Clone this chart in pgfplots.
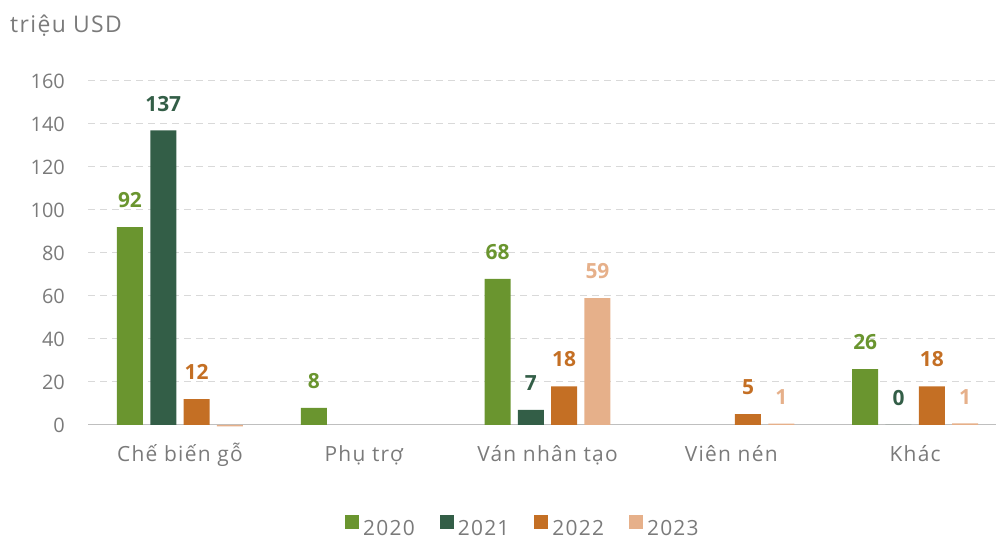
\documentclass[border=0pt]{standalone}
\usepackage{fontspec}
\setmainfont{Open Sans}
\newfontfamily\widefont{Open Sans}[LetterSpace=6]
\usepackage{pgfplots}
\pgfplotsset{compat=1.18}
\definecolor{c20}{HTML}{6A952F}
\definecolor{c21}{HTML}{335E47}
\definecolor{c22}{HTML}{C46F24}
\definecolor{c23}{HTML}{E6B08A}
\definecolor{txt}{HTML}{7A7A7A}
\definecolor{gridc}{HTML}{D9D9D9}
\definecolor{zeroc}{HTML}{BFBFBF}
\newcommand{\lbl}{\fontsize{20}{24}\selectfont}
\newcommand{\catlbl}{\widefont\fontsize{21}{25}\selectfont}
\newcommand{\titlelbl}{\widefont\fontsize{23}{27}\selectfont}
\newcommand{\dlbl}{\fontsize{21}{25}\selectfont\bfseries}
\pgfplotsset{sqlegend/.style={legend image code/.code={\fill[##1] (0bp,0bp) rectangle (14bp,14bp);}}}
\begin{document}
\begin{tikzpicture}[x=1bp,y=1bp]
\path[use as bounding box] (0,0) rectangle (996,540);
\node[anchor=base west, inner sep=0, text=txt, font=\titlelbl] at (10,507) {triệu USD};
\begin{axis}[
  at={(88bp,115bp)}, anchor=south west,
  scale only axis, width=908bp, height=344bp,
  xmin=-0.5, xmax=4.44, ymin=0, ymax=160,
  axis line style={draw=none}, clip=false,
  ybar=7.3bp, bar width=26bp,
  xtick={0,1,2,3,4},
  xticklabels={Chế biến gỗ, Phụ trợ, Ván nhân tạo, Viên nén, Khác},
  ytick={20,40,...,160},
  extra y ticks={0},
  extra y tick style={grid=major, major grid style={solid, draw=zeroc, line width=1bp}},
  ymajorgrids, major grid style={draw=gridc, line width=1bp, dash pattern=on 7bp off 5bp},
  major tick length=0pt,
  /pgf/number format/assume math mode=true,
  tick label style={font=\lbl, text=txt},
  yticklabel style={anchor=east, inner sep=0pt, xshift=-23bp},
  xticklabel style={anchor=base, inner sep=0pt, yshift=-37bp, font=\catlbl},
  point meta=explicit symbolic,
  nodes near coords,
  every node near coord/.append style={font=\dlbl, anchor=south, inner sep=0pt, yshift=19bp},
  legend columns=4,
  legend style={at={(0.479,-0.297)}, anchor=center, draw=none, fill=none, font=\catlbl, text=txt,
    /tikz/every odd column/.append style={column sep=2bp},
    /tikz/every even column/.append style={column sep=23bp}},
  sqlegend,
]
\addplot[fill=c20, draw=none, every node near coord/.append style={text=c20}] coordinates {(0,92) [92] (1,8) [8] (2,68) [68] (4,26) [26]};
\addplot[fill=c21, draw=none, every node near coord/.append style={text=c21}] coordinates {(0,137) [137] (2,7) [7] (4,0) [0]};
\addplot[fill=c22, draw=none, every node near coord/.append style={text=c22}] coordinates {(0,12) [12] (2,18) [18] (3,5) [5] (4,18) [18]};
\addplot[fill=c23, draw=none, every node near coord/.append style={text=c23}] coordinates {(0,-0.6) [] (2,59) [59] (3,0.6) [1] (4,0.8) [1]};
\legend{2020,2021,2022,2023}
\end{axis}
\end{tikzpicture}
\end{document}
